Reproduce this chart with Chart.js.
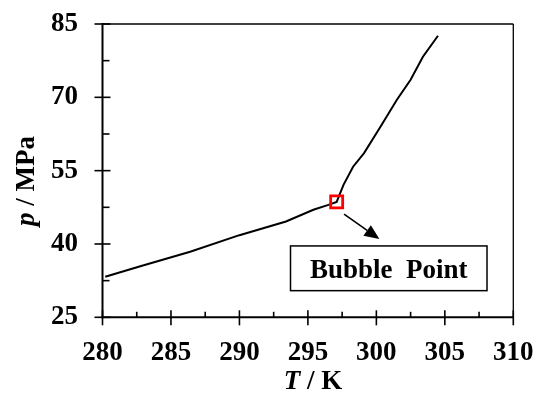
<!DOCTYPE html>
<html>
<head>
<meta charset="utf-8">
<script src="https://cdn.jsdelivr.net/npm/chart.js@4"></script>
<style>
  html, body { margin: 0; padding: 0; background: #fff; }
  #wrap { width: 537px; height: 394px; }
</style>
</head>
<body>
<div id="wrap"><canvas id="c" width="537" height="394"></canvas></div>
<script>
// Phase boundary: pressure against temperature
const temperatureK = [280.2, 282.7, 286.4, 290.0, 293.4, 295.4, 296.5, 297.1, 297.6, 298.3, 299.1, 300.3, 301.5, 302.5, 303.4, 304.5];
const pressureMPa  = [33.3, 35.4, 38.4, 41.8, 44.6, 47.0, 48.0, 48.6, 52.1, 55.8, 58.6, 64.0, 69.5, 73.6, 78.3, 82.6];

// Bubble point marker
const bubbleT = [297.1];
const bubbleP = [48.6];

// Axis ticks
const xMajorTicks = [280, 285, 290, 295, 300, 305, 310];
const xMinorTicks = [282.5, 287.5, 292.5, 297.5, 302.5, 307.5];
const yMajorTicks = [25, 40, 55, 70, 85];
const yMinorTicks = [32.5, 47.5, 62.5, 77.5];

// Callout: arrow (data units) and label box (data units)
const arrowFrom = { T: 297.64, p: 46.1 };
const arrowTo   = { T: 300.22, p: 41.0 };
const labelBox  = { T0: 293.73, T1: 308.08, p0: 39.6, p1: 30.45 };
const labelText = 'Bubble  Point';

const SERIF = '"Liberation Serif", "Times New Roman", serif';

const curve = temperatureK.map((t, i) => ({ x: t, y: pressureMPa[i] }));
const bubble = bubbleT.map((t, i) => ({ x: t, y: bubbleP[i] }));

const frameAndTicks = {
  id: 'frameAndTicks',
  afterDatasetsDraw(chart) {
    const { ctx, chartArea: { left, right, top, bottom }, scales: { x, y } } = chart;
    ctx.save();
    ctx.strokeStyle = '#000';
    ctx.lineCap = 'butt';
    const seg = (x0, y0, x1, y1) => { ctx.beginPath(); ctx.moveTo(x0, y0); ctx.lineTo(x1, y1); ctx.stroke(); };

    // top and right frame
    ctx.lineWidth = 1.3;
    seg(left, top, right, top);
    seg(right, top, right, bottom);
    // left and bottom axes
    ctx.lineWidth = 2;
    seg(left, top - 1, left, bottom + 1);
    seg(left - 1, bottom, right + 0.6, bottom);

    ctx.lineWidth = 1.6;
    xMajorTicks.forEach(v => { const px = x.getPixelForValue(v); seg(px, bottom - 7, px, bottom + 8); });
    xMinorTicks.forEach(v => { const px = x.getPixelForValue(v); seg(px, bottom - 5.5, px, bottom); });
    yMajorTicks.forEach(v => { const py = y.getPixelForValue(v); seg(left - 8, py, left + 8, py); });
    yMinorTicks.forEach(v => { const py = y.getPixelForValue(v); seg(left, py, left + 7, py); });
    ctx.restore();
  },
  afterDraw(chart) {
    const { ctx, chartArea: { left, right }, scales: { x, y } } = chart;
    ctx.save();
    ctx.fillStyle = '#000';
    ctx.strokeStyle = '#000';

    // arrow from the bubble point to the label
    const ax0 = x.getPixelForValue(arrowFrom.T), ay0 = y.getPixelForValue(arrowFrom.p);
    const ax1 = x.getPixelForValue(arrowTo.T),   ay1 = y.getPixelForValue(arrowTo.p);
    const ang = Math.atan2(ay1 - ay0, ax1 - ax0);
    const headLen = 15, headHalf = 6.5;
    const bx = ax1 - headLen * Math.cos(ang), by = ay1 - headLen * Math.sin(ang);
    ctx.lineWidth = 1.6;
    ctx.beginPath(); ctx.moveTo(ax0, ay0); ctx.lineTo(bx, by); ctx.stroke();
    ctx.beginPath();
    ctx.moveTo(ax1, ay1);
    ctx.lineTo(bx + headHalf * Math.sin(ang), by - headHalf * Math.cos(ang));
    ctx.lineTo(bx - headHalf * Math.sin(ang), by + headHalf * Math.cos(ang));
    ctx.closePath(); ctx.fill();

    // label box
    const bx0 = x.getPixelForValue(labelBox.T0), bx1 = x.getPixelForValue(labelBox.T1);
    const by0 = y.getPixelForValue(labelBox.p0), by1 = y.getPixelForValue(labelBox.p1);
    ctx.fillStyle = '#fff';
    ctx.fillRect(bx0, by0, bx1 - bx0, by1 - by0);
    ctx.lineWidth = 1.5;
    ctx.strokeRect(bx0, by0, bx1 - bx0, by1 - by0);
    ctx.fillStyle = '#000';
    ctx.font = 'bold 27px ' + SERIF;
    ctx.textAlign = 'center';
    ctx.textBaseline = 'alphabetic';
    ctx.fillText(labelText, (bx0 + bx1) / 2, (by0 + by1) / 2 + 9.5);

    // axis titles with italic symbols
    const drawTitle = (sym, rest, cx, base) => {
      ctx.textAlign = 'left';
      ctx.font = 'italic bold 27px ' + SERIF;
      const w1 = ctx.measureText(sym).width;
      ctx.font = 'bold 27px ' + SERIF;
      const w2 = ctx.measureText(rest).width;
      const start = cx - (w1 + w2) / 2;
      ctx.font = 'italic bold 27px ' + SERIF;
      ctx.fillText(sym, start, base);
      ctx.font = 'bold 27px ' + SERIF;
      ctx.fillText(rest, start + w1, base);
    };
    drawTitle('T', ' / K', (left + right) / 2 + 5, 389);

    ctx.save();
    ctx.translate(34, 181);
    ctx.rotate(-Math.PI / 2);
    drawTitle('p', ' / MPa', 0, 0);
    ctx.restore();

    ctx.restore();
  }
};

new Chart(document.getElementById('c'), {
  type: 'scatter',
  data: {
    datasets: [
      {
        label: 'p(T)',
        data: curve,
        showLine: true,
        borderColor: '#000',
        borderWidth: 2,
        pointRadius: 0,
        tension: 0,
        order: 2
      },
      {
        label: 'Bubble Point',
        data: bubble,
        pointStyle: 'rect',
        pointRadius: 8.5,
        pointBorderWidth: 2.8,
        pointBorderColor: '#ff0000',
        pointBackgroundColor: 'rgba(0,0,0,0)',
        order: 1
      }
    ]
  },
  options: {
    responsive: false,
    animation: false,
    events: [],
    layout: { padding: { top: 24, right: 23.7, left: 0, bottom: 0 } },
    plugins: { legend: { display: false }, tooltip: { enabled: false } },
    scales: {
      x: {
        type: 'linear',
        min: 280, max: 310,
        afterFit(scale) {
          scale.height = 76.7;
          scale.paddingLeft = 0; scale.paddingRight = 0;
        },
        afterBuildTicks(scale) { scale.ticks = xMajorTicks.map(v => ({ value: v })); },
        grid: { display: false, drawTicks: false },
        border: { display: false },
        ticks: {
          color: '#000',
          padding: 20,
          maxRotation: 0,
          font: { family: SERIF, size: 27, weight: 'bold' }
        }
      },
      y: {
        type: 'linear',
        min: 25, max: 85,
        afterFit(scale) {
          scale.width = 102.5;
          scale.paddingTop = 0; scale.paddingBottom = 0;
        },
        afterBuildTicks(scale) { scale.ticks = yMajorTicks.map(v => ({ value: v })); },
        grid: { display: false, drawTicks: false },
        border: { display: false },
        ticks: {
          color: '#000',
          padding: 24.5,
          font: { family: SERIF, size: 27, weight: 'bold' }
        }
      }
    }
  },
  plugins: [frameAndTicks]
});
</script>
</body>
</html>
